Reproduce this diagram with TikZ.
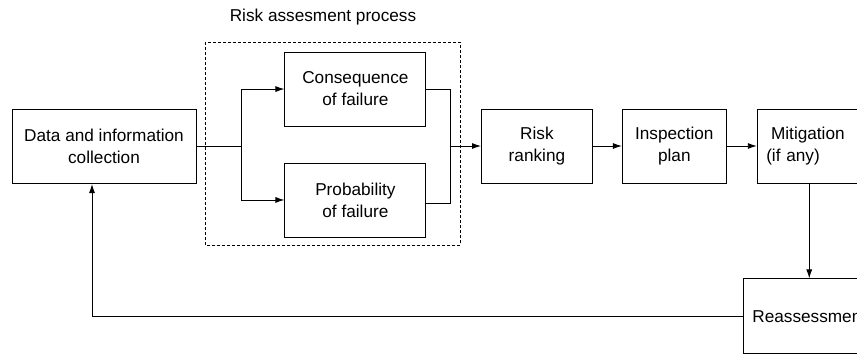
\documentclass[tikz,border=0pt]{standalone}
\usepackage{fontspec}
\setmainfont{Liberation Sans}
\usetikzlibrary{positioning,arrows.meta}

\begin{document}
\begin{tikzpicture}[x=1pt, y=-1pt, line width=0.9pt, >={Latex[length=9pt,width=6pt]},
    every node/.style = {font=\fontsize{17.2}{22}\selectfont},
    box/.style = {draw, minimum height=74pt, align=center, inner sep=2pt}]
\useasboundingbox (0,0) rectangle (857,356);
\clip (0,0) rectangle (857,356);

\node[box, minimum width=184pt] (data) at (104,146.5) {Data and information\\collection};
\coordinate[right=45pt of data] (split);
\node[box, minimum width=141pt] (cons) [above right=20pt and 43pt of split] {Consequence\\of failure};
\node[box, minimum width=141pt] (prob) [below right=16pt and 43pt of split] {Probability\\of failure};
\coordinate (merge) at (450,146);
\node[box, minimum width=111pt] (risk) [right=31pt of merge] {Risk\\ranking};
\node[box, minimum width=104pt] (insp) [right=29pt of risk] {Inspection\\plan};
\node[box, minimum width=104pt, align=left, text width=86pt] (mitig) [right=30pt of insp] {\hspace{0.28em}Mitigation\\(if any)};
\node[box, minimum width=132pt, minimum height=75pt] (reass) [below=95pt of mitig] {Reassessment};
\coordinate (back) at (92,184);

% risk assessment group
\draw[dash pattern=on 3pt off 2pt, line width=0.7pt] (205,42) rectangle (460,245);
\node (title) at (323,17) {Risk assesment process};

\draw (data) -- (split);
\draw[->] (split) |- (cons);
\draw[->] (split) |- (prob);
\draw (cons) -| (merge);
\draw (prob.east) ++(0,3) -| (merge);
\draw[->] (merge) -- (risk);
\draw[->] (risk) -- (insp);
\draw[->] (insp) -- (mitig);
\draw[->] (mitig) -- (reass);
\draw[->] (reass) -| (back);
\end{tikzpicture}
\end{document}
